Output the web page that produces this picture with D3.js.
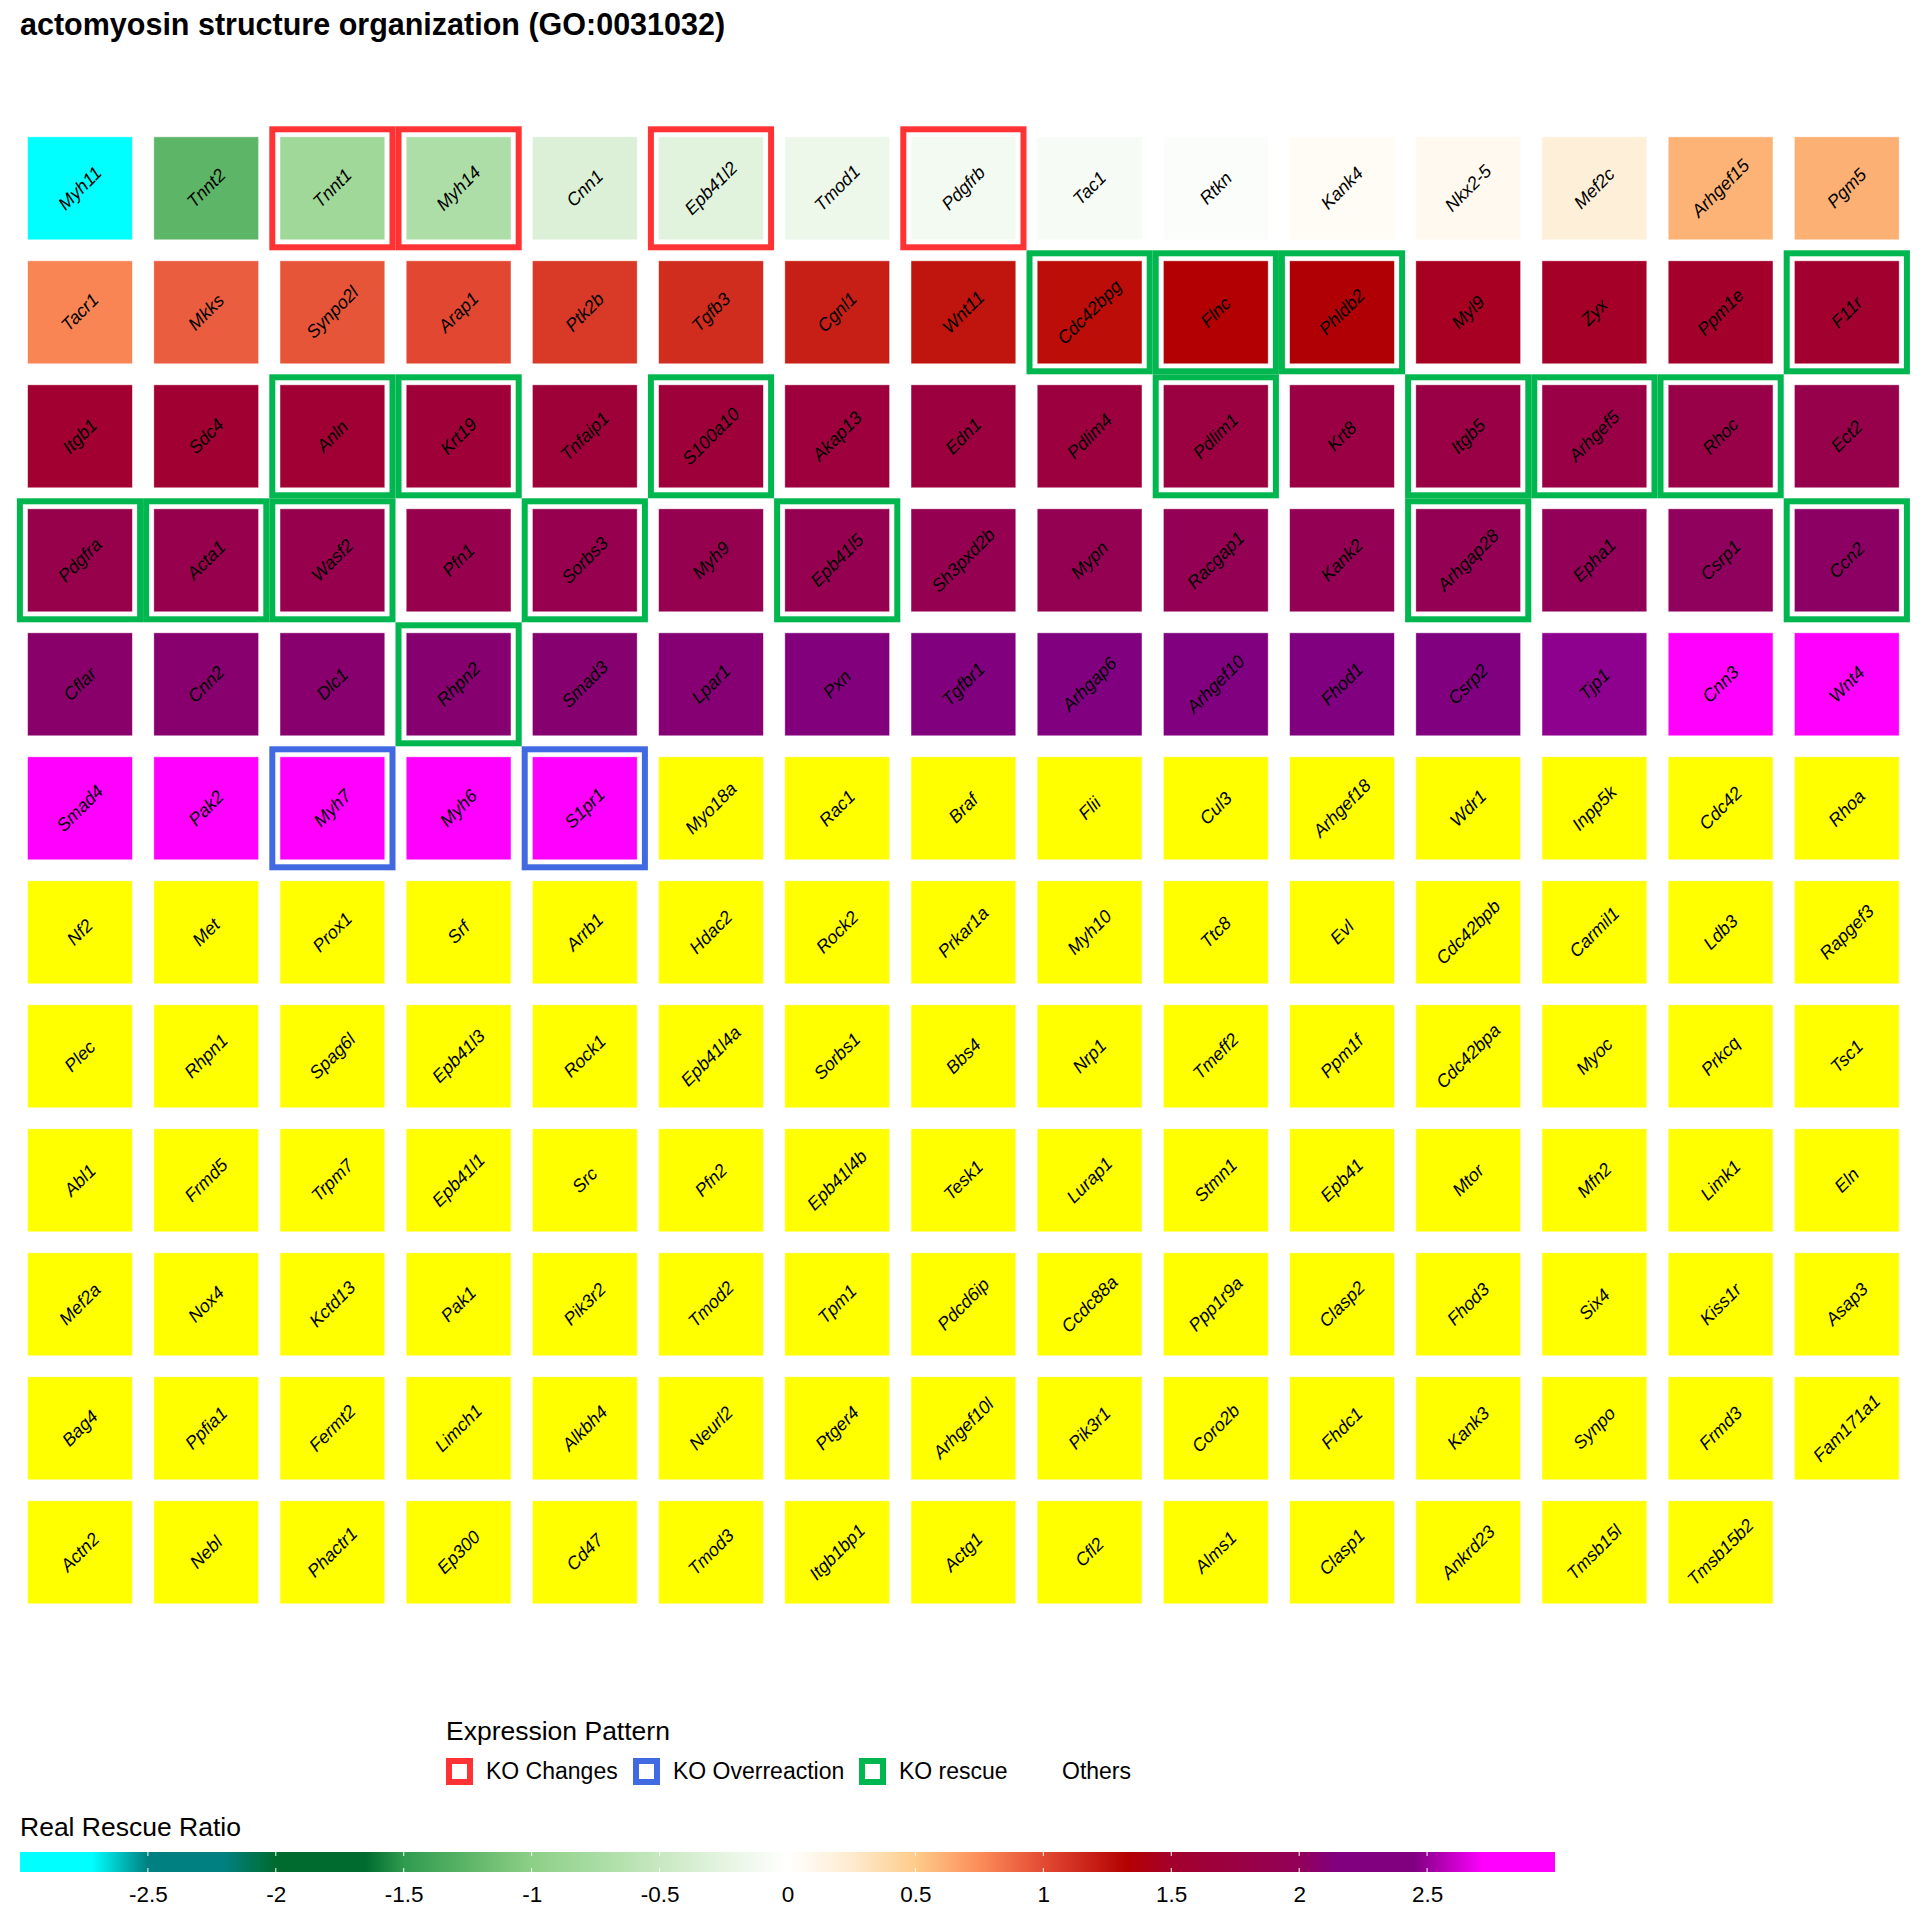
<!DOCTYPE html>
<html>
<head>
<meta charset="utf-8">
<script src="https://cdn.jsdelivr.net/npm/d3@7"></script>
<style>
  html, body { margin: 0; padding: 0; background: #ffffff; }
  svg { display: block; font-family: "Liberation Sans", Arial, Helvetica, sans-serif; }
</style>
</head>
<body>
<svg id="chart" width="1920" height="1920"></svg>
<script>
// ---------------- DATA ----------------
const title = "actomyosin structure organization (GO:0031032)";

const genes = [
  "Myh11","Tnnt2","Tnnt1","Myh14","Cnn1","Epb41l2","Tmod1","Pdgfrb","Tac1","Rtkn","Kank4","Nkx2-5","Mef2c","Arhgef15","Pgm5",
  "Tacr1","Mkks","Synpo2l","Arap1","Ptk2b","Tgfb3","Cgnl1","Wnt11","Cdc42bpg","Flnc","Phldb2","Myl9","Zyx","Ppm1e","F11r",
  "Itgb1","Sdc4","Anln","Krt19","Tnfaip1","S100a10","Akap13","Edn1","Pdlim4","Pdlim1","Krt8","Itgb5","Arhgef5","Rhoc","Ect2",
  "Pdgfra","Acta1","Wasf2","Pfn1","Sorbs3","Myh9","Epb41l5","Sh3pxd2b","Mypn","Racgap1","Kank2","Arhgap28","Epha1","Csrp1","Ccn2",
  "Cflar","Cnn2","Dlc1","Rhpn2","Smad3","Lpar1","Pxn","Tgfbr1","Arhgap6","Arhgef10","Fhod1","Csrp2","Tjp1","Cnn3","Wnt4",
  "Smad4","Pak2","Myh7","Myh6","S1pr1","Myo18a","Rac1","Braf","Flii","Cul3","Arhgef18","Wdr1","Inpp5k","Cdc42","Rhoa",
  "Nf2","Met","Prox1","Srf","Arrb1","Hdac2","Rock2","Prkar1a","Myh10","Ttc8","Evl","Cdc42bpb","Carmil1","Ldb3","Rapgef3",
  "Plec","Rhpn1","Spag6l","Epb41l3","Rock1","Epb41l4a","Sorbs1","Bbs4","Nrp1","Tmeff2","Ppm1f","Cdc42bpa","Myoc","Prkcq","Tsc1",
  "Abl1","Frmd5","Trpm7","Epb41l1","Src","Pfn2","Epb41l4b","Tesk1","Lurap1","Stmn1","Epb41","Mtor","Mfn2","Limk1","Eln",
  "Mef2a","Nox4","Kctd13","Pak1","Pik3r2","Tmod2","Tpm1","Pdcd6ip","Ccdc88a","Ppp1r9a","Clasp2","Fhod3","Six4","Kiss1r","Asap3",
  "Bag4","Ppfia1","Fermt2","Limch1","Alkbh4","Neurl2","Ptger4","Arhgef10l","Pik3r1","Coro2b","Fhdc1","Kank3","Synpo","Frmd3","Fam171a1",
  "Actn2","Nebl","Phactr1","Ep300","Cd47","Tmod3","Itgb1bp1","Actg1","Cfl2","Alms1","Clasp1","Ankrd23","Tmsb15l","Tmsb15b2"
];

// Real rescue ratio per gene (null = not available, drawn yellow)
const ratios = [
  -2.9,-1.25,-0.82,-0.7,-0.33,-0.28,-0.17,-0.12,-0.08,-0.04,0.05,0.08,0.2,0.6,0.61,
  0.78,0.93,0.96,1.01,1.07,1.13,1.19,1.24,1.27,1.34,1.35,1.46,1.48,1.5,1.53,
  1.54,1.57,1.59,1.62,1.64,1.66,1.68,1.7,1.72,1.74,1.76,1.78,1.8,1.82,1.84,
  1.85,1.86,1.87,1.88,1.89,1.9,1.91,1.92,1.93,1.94,1.95,1.96,2.0,2.02,2.04,
  2.07,2.08,2.08,2.09,2.09,2.1,2.13,2.14,2.15,2.16,2.2,2.3,2.48,3.0,3.0,
  3.0,3.0,3.0,3.0,3.0,null,null,null,null,null,null,null,null,null,null,
  null,null,null,null,null,null,null,null,null,null,null,null,null,null,null,
  null,null,null,null,null,null,null,null,null,null,null,null,null,null,null,
  null,null,null,null,null,null,null,null,null,null,null,null,null,null,null,
  null,null,null,null,null,null,null,null,null,null,null,null,null,null,null,
  null,null,null,null,null,null,null,null,null,null,null,null,null,null,null,
  null,null,null,null,null,null,null,null,null,null,null,null,null,null
];

const koChanges = ["Tnnt1","Myh14","Epb41l2","Pdgfrb"];
const koOverreaction = ["Myh7","S1pr1"];
const koRescue = ["Cdc42bpg","Flnc","Phldb2","F11r","Anln","Krt19","S100a10","Pdlim1","Itgb5","Arhgef5","Rhoc",
                  "Pdgfra","Acta1","Wasf2","Sorbs3","Epb41l5","Arhgap28","Ccn2","Rhpn2"];

const patternNames = ["KO Changes","KO Overreaction","KO rescue","Others"];
const patternColors = ["#FF3333","#4169E1","#00B74F", null];

const colorStops = [-3,-2.72,-2.5,-2.2,-2.0,-1.65,-1.5,-1.25,-1.0,-0.75,-0.5,-0.25,0,0.25,0.5,0.75,1.0,1.33,1.5,2.0,2.15,2.45,2.72,3];
const stopColors = ["#00FFFF","#00FFFF","#008080","#008080","#006B2E","#006B2E","#2E9B4F","#5DB567","#8DCF87","#A8DCA2","#C8E8C1","#E5F4E1","#FFFFFF",
                    "#FEEBCF","#FDCC8A","#FC8D59","#E34A33","#B30000","#A3002C","#920058","#800080","#800080","#FF00FF","#FF00FF"];
const colorTicks = [-2.5,-2,-1.5,-1,-0.5,0,0.5,1,1.5,2,2.5];

// ---------------- CHART ----------------
const svg = d3.select("#chart");
const nCols = 15, nRows = 12;

const data = genes.map((g, i) => {
  let pattern = "Others";
  if (koChanges.includes(g)) pattern = "KO Changes";
  else if (koOverreaction.includes(g)) pattern = "KO Overreaction";
  else if (koRescue.includes(g)) pattern = "KO rescue";
  return { gene: g, value: ratios[i], col: i % nCols, row: Math.floor(i / nCols), pattern };
});

const x = d3.scaleBand().domain(d3.range(nCols)).range([16.9, 16.9 + nCols * 126.2]).padding(0);
const y = d3.scaleBand().domain(d3.range(nRows)).range([126.3, 126.3 + nRows * 124]).padding(0);
const fill = d3.scaleLinear().domain(colorStops).range(stopColors).clamp(true);
const patColor = d3.scaleOrdinal().domain(patternNames).range(patternColors);
const tileFrac = 0.83;

// title
svg.append("text").attr("x", 20).attr("y", 35)
  .attr("font-size", 30.5).attr("font-weight", "bold").attr("fill", "#000").text(title);

const g = svg.append("g");
const cells = g.selectAll("g.cell").data(data).join("g").attr("class", "cell")
  .attr("transform", d => `translate(${x(d.col)},${y(d.row)})`);

// pattern borders
const bw = x.bandwidth(), bh = y.bandwidth();
const inset = 3;
cells.filter(d => d.pattern !== "Others").append("rect")
  .attr("x", inset).attr("y", inset)
  .attr("width", bw - 2 * inset).attr("height", bh - 2 * inset)
  .attr("fill", "#fff").attr("stroke", d => patColor(d.pattern)).attr("stroke-width", 6);

// tiles
const tw = bw * tileFrac, th = bh * tileFrac;
cells.append("rect")
  .attr("x", (bw - tw) / 2).attr("y", (bh - th) / 2)
  .attr("width", tw).attr("height", th)
  .attr("fill", d => d.value === null ? "#FFFF00" : fill(d.value))
  .attr("stroke", "#ffffff").attr("stroke-opacity", 0.5).attr("stroke-width", 0.8);

// labels
cells.append("text")
  .attr("transform", `translate(${bw / 2},${bh / 2}) rotate(-45)`)
  .attr("text-anchor", "middle").attr("dominant-baseline", "central")
  .attr("font-size", 18).attr("font-style", "italic").attr("fill", "#000")
  .text(d => d.gene);

// ---------------- LEGEND: Expression Pattern ----------------
svg.append("text").attr("x", 446).attr("y", 1740).attr("font-size", 26.5).attr("fill", "#000").text("Expression Pattern");
const keyX = [446, 633, 859, 1035];
const lg = svg.selectAll("g.key").data(patternNames).join("g").attr("class", "key")
  .attr("transform", (d, i) => `translate(${keyX[i]},1758)`);
lg.filter(d => patColor(d) !== null).append("rect")
  .attr("x", 3).attr("y", 3).attr("width", 21).attr("height", 21)
  .attr("fill", "#fff").attr("stroke", d => patColor(d)).attr("stroke-width", 6);
lg.append("text").attr("x", (d, i) => i === 3 ? 27 : 40).attr("y", 21)
  .attr("font-size", 23).attr("fill", "#000").text(d => d);

// ---------------- COLORBAR ----------------
svg.append("text").attr("x", 20).attr("y", 1836).attr("font-size", 26.5).attr("fill", "#000").text("Real Rescue Ratio");
const cb = d3.scaleLinear().domain([-3, 3]).range([20, 1555]);
const defs = svg.append("defs");
const grad = defs.append("linearGradient").attr("id", "cbgrad").attr("x1", "0%").attr("x2", "100%").attr("y1", "0%").attr("y2", "0%");
grad.selectAll("stop").data(colorStops).join("stop")
  .attr("offset", d => ((d + 3) / 6 * 100) + "%")
  .attr("stop-color", (d, i) => stopColors[i]);
const cbTop = 1852, cbH = 20;
svg.append("rect").attr("x", cb(-3)).attr("y", cbTop).attr("width", cb(3) - cb(-3)).attr("height", cbH).attr("fill", "url(#cbgrad)");
svg.append("g").selectAll("line.t1").data(colorTicks).join("line")
  .attr("x1", d => cb(d)).attr("x2", d => cb(d)).attr("y1", cbTop).attr("y2", cbTop + 4)
  .attr("stroke", "#fff").attr("stroke-width", 1);
svg.append("g").selectAll("line.t2").data(colorTicks).join("line")
  .attr("x1", d => cb(d)).attr("x2", d => cb(d)).attr("y1", cbTop + cbH - 4).attr("y2", cbTop + cbH)
  .attr("stroke", "#fff").attr("stroke-width", 1);
const axis = d3.axisBottom(cb).tickValues(colorTicks).tickSize(0).tickPadding(0).tickFormat(d => String(d));
const ax = svg.append("g").attr("transform", `translate(0,${cbTop + cbH})`).call(axis);
ax.select(".domain").remove();
ax.selectAll("text").attr("font-size", 22.5).attr("fill", "#000").attr("dy", null).attr("y", 30)
  .style("font-family", "'Liberation Sans', Arial, sans-serif");
</script>
</body>
</html>
